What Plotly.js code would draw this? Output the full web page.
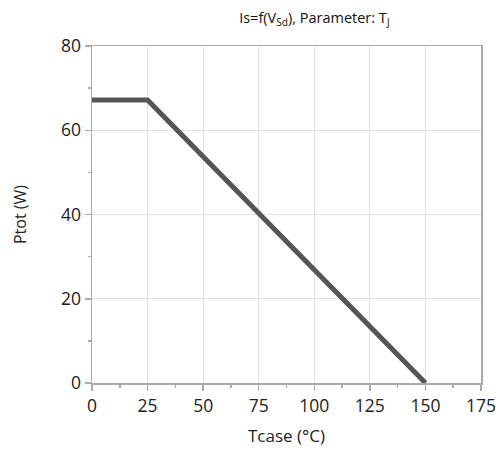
<!DOCTYPE html>
<html><head><meta charset="utf-8">
<script src="https://cdn.plot.ly/plotly-3.0.1.min.js"></script>
<style>html,body{margin:0;padding:0;background:#fff}</style>
</head><body>
<div id="chart" style="width:503px;height:453px"></div>
<script>
const tcase = [0, 25, 150];
const ptot = [67.2, 67.2, 0];
const xTicks = [0, 25, 50, 75, 100, 125, 150, 175];
const yTicks = [0, 20, 40, 60, 80];

const trace = {
  x: tcase, y: ptot, type: 'scatter', mode: 'lines',
  line: {color: '#555555', width: 5}, hoverinfo: 'skip'
};
const axisCommon = {
  showline: true, linecolor: '#aaaaaa', linewidth: 1.5, mirror: true,
  gridcolor: '#e3e3e3', gridwidth: 1, zeroline: false,
  ticks: 'outside', ticklen: 6, tickcolor: '#aaaaaa', tickwidth: 1.5,
  tickfont: {family: 'Open Sans', size: 17.5, color: '#222'},
  minor: {ticks: 'outside', ticklen: 3, tickcolor: '#aaaaaa', showgrid: false}
};
const layout = {
  width: 503, height: 453,
  margin: {l: 92, r: 22, t: 46, b: 70},
  paper_bgcolor: '#fff', plot_bgcolor: '#fff',
  showlegend: false,
  title: {text: 'Is=f(V<sub>Sd</sub>), Parameter: T<sub>J</sub>',
          font: {family: 'Open Sans', size: 14.5, color: '#111'},
          x: 0.625, xanchor: 'center', y: 0.96, yanchor: 'middle'},
  xaxis: Object.assign({}, axisCommon, {
    range: [0, 175], tickvals: xTicks, ticktext: xTicks.map(String),
    minor: Object.assign({}, axisCommon.minor, {dtick: 12.5, tick0: 0}),
    title: {text: 'Tcase (°C)', font: {family: 'Open Sans', size: 17, color: '#222'}, standoff: 14}
  }),
  yaxis: Object.assign({}, axisCommon, {
    range: [0, 80], tickvals: yTicks, ticktext: yTicks.map(String),
    minor: Object.assign({}, axisCommon.minor, {dtick: 10, tick0: 0}),
    title: {text: 'Ptot (W)', font: {family: 'Open Sans', size: 16, color: '#222'}, standoff: 30}
  })
};
Plotly.newPlot('chart', [trace], layout, {displayModeBar: false, staticPlot: true});
</script>
</body></html>
